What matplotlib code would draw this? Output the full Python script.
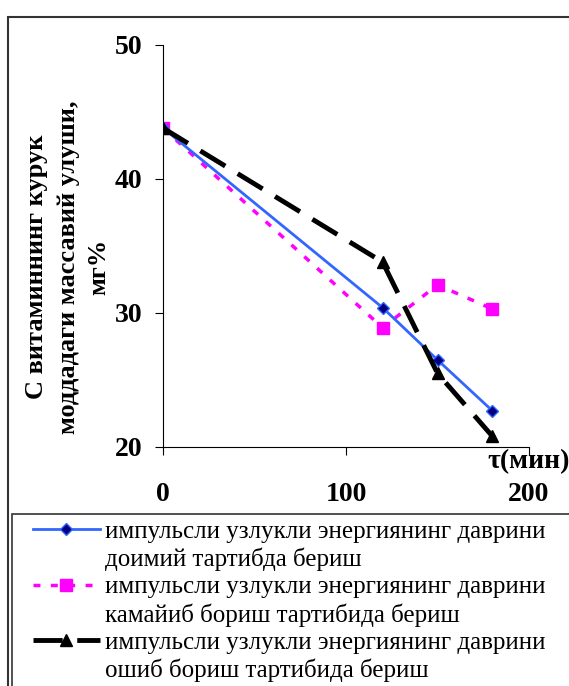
import matplotlib.pyplot as plt
from matplotlib.patches import Rectangle
from matplotlib.lines import Line2D

# données
tau = [0, 120, 150, 180]
doimiy = [43.8, 30.4, 26.5, 22.7]
kamayib = [43.8, 28.9, 32.1, 30.3]
oshib = [43.8, 33.8, 25.5, 20.8]

labels = [
    ("импульсли узлукли энергиянинг даврини", "доимий тартибда бериш"),
    ("импульсли узлукли энергиянинг даврини", "камайиб бориш тартибида бериш"),
    ("импульсли узлукли энергиянинг даврини", "ошиб бориш тартибида бериш"),
]
yticks = [20, 30, 40, 50]
xticks = [0, 100, 200]

plt.rcParams['font.family'] = ['Liberation Serif', 'DejaVu Serif']

W, H = 569, 686
fig = plt.figure(figsize=(W / 100, H / 100), dpi=100)

# cadre extérieur et cadre de la légende
fig.patches.append(Rectangle((8 / W, -0.01), 1.0, 1 - 17 / H + 0.01, transform=fig.transFigure,
                             fill=False, edgecolor='#333333', lw=1.5))
fig.patches.append(Rectangle((12 / W, -0.01), 1.0, 1 - 514 / H + 0.01, transform=fig.transFigure,
                             fill=False, edgecolor='#333333', lw=1.2))

ax = fig.add_axes([163 / W, 1 - 447 / H, (529 - 163) / W, (447 - 45) / H])

l1, = ax.plot(tau, doimiy, color='#3366FF', lw=2, marker='D', markersize=6,
              markerfacecolor='#000080', markeredgecolor='#3366FF', markeredgewidth=1, zorder=3)
l2, = ax.plot(tau, kamayib, color='#FF00FF', lw=2.5, linestyle=(0, (2, 3)), marker='s', markersize=9,
              markerfacecolor='#FF00FF', markeredgecolor='#FF00FF', zorder=2)
l3, = ax.plot(tau, oshib, color='black', lw=3.5, linestyle=(0, (6, 3)), marker='^', markersize=8.5,
              markerfacecolor='black', markeredgecolor='black', zorder=4)

ax.set_xlim(0, 200)
ax.set_ylim(20, 50)
ax.set_xticks(xticks)
ax.set_yticks(yticks)
ax.spines['top'].set_visible(False)
ax.spines['right'].set_visible(False)
ax.tick_params(axis='y', direction='out', length=6, pad=9, labelsize=20)
ax.tick_params(axis='x', direction='out', length=6, pad=19, labelsize=20)
for t in ax.get_xticklabels() + ax.get_yticklabels():
    t.set_fontweight('bold')
ax.set_facecolor('none')

fig.text(487 / W, 1 - 462 / H, "τ(мин)", fontsize=20, fontweight='bold', ha='left', va='center')
fig.text(68 / W, 1 - 267 / H, "С витаминнинг курук\nмоддадаги массавий улуши,\nмг%",
         rotation=90, fontsize=19, fontweight='bold', ha='center', va='center',
         multialignment='center', linespacing=1.45)

# légende : une entrée par ligne de texte, le symbole sur la première ligne
blank = Line2D([], [], alpha=0)
handles, texts = [], []
for h, (a, b) in zip([l1, l2, l3], labels):
    handles += [h, blank]
    texts += [a, b]
leg = fig.legend(handles, texts, loc='upper left', bbox_to_anchor=(30 / W, 1 - 518 / H),
                 frameon=False, fontsize=18, handlelength=2.7, handletextpad=0.2,
                 labelspacing=0.19, borderpad=0.1, borderaxespad=0)

fig.savefig("out.png", dpi=100)
